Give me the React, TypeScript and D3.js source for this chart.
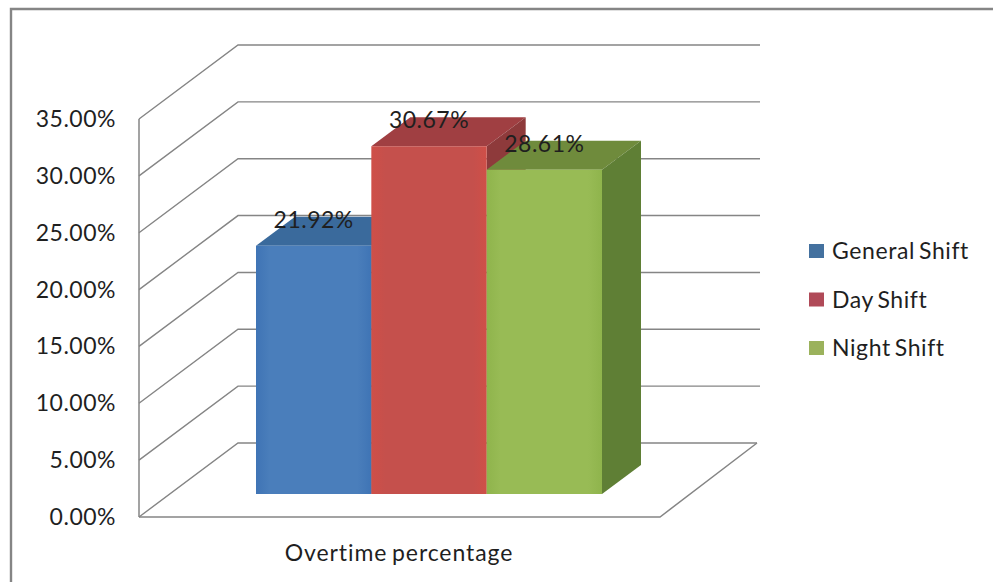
import React from "react";
import * as d3 from "d3";

const seriesNames = ["General Shift", "Day Shift", "Night Shift"];
const seriesValues = [21.92, 30.67, 28.61];
const frontColors = ["#4a7ebb", "#c5504c", "#98bb55"];
const edgeColors = ["#3f74b5", "#cf4f48", "#8fb44c"];
const topColors = ["#3a6a9c", "#a03f42", "#6f8b3c"];
const sideColors = ["#2f5a86", "#8e3a3b", "#5f7f35"];
const legendColors = ["#44719f", "#b04a58", "#9bb25c"];
const axisTicks = [0, 5, 10, 15, 20, 25, 30, 35];
const categoryName = "Overtime percentage";

const FONT = "Lato, 'Open Sans', sans-serif";
const GRID = "#858585";

// Height of a value on the plane through the front corner of the floor.
const y = d3.scaleLinear().domain([0, 35]).range([517, 119]);
const fmt = (v: number) => `${v.toFixed(2)}%`;

// Oblique projection: how far the wall sits behind the front edge.
const wallDx = 99;
const wallDy = -74;
const barDx = 39;
const barDy = -29;
const barBase = 494;

const barX = d3.scaleBand<number>().domain([0, 1, 2]).range([256, 602]);
const poly = (pts: number[][]) => d3.line()(pts as [number, number][]) + "Z";

export default function App() {
  const zero = y(0);
  const w = barX.bandwidth();
  const barTop = (v: number) => barBase - (zero - y(v)) + 1;
  return (
    <svg
      width={993}
      height={582}
      style={{ position: "absolute", left: 0, top: 0, background: "#fff" }}
      fontFamily={FONT}
      fill="#1f1f1f"
    >
      <defs>
        {seriesNames.map((_, i) => (
          <linearGradient key={i} id={`front${i}`} x1="0" x2="1" y1="0" y2="0">
            <stop offset="0" stopColor={edgeColors[i]} />
            <stop offset="0.12" stopColor={frontColors[i]} />
            <stop offset="0.88" stopColor={frontColors[i]} />
            <stop offset="1" stopColor={edgeColors[i]} />
          </linearGradient>
        ))}
      </defs>

      <path d="M11,582V9H993" fill="none" stroke="#858585" strokeWidth={2.4} />

      {/* walls and gridlines */}
      <line x1={139} x2={139} y1={y(35)} y2={zero} stroke={GRID} strokeWidth={1.5} />
      {axisTicks.map((t) => (
        <path
          key={t}
          d={`M139,${y(t)}L${139 + wallDx},${y(t) + wallDy}H${t === 0 ? 757 : 760}`}
          fill="none"
          stroke={GRID}
          strokeWidth={1.4}
        />
      ))}
      <path
        d={`M139,${zero}H660L${660 + wallDx - 2},${zero + wallDy}`}
        fill="none"
        stroke={GRID}
        strokeWidth={1.5}
      />

      {/* top and side faces first, so each front face covers its neighbour's depth */}
      {seriesValues.map((v, i) => {
        const x0 = barX(i)!;
        const top = barTop(v);
        return (
          <g key={i}>
            <path
              d={poly([
                [x0, top],
                [x0 + barDx, top + barDy],
                [x0 + w + barDx, top + barDy],
                [x0 + w, top],
              ])}
              fill={topColors[i]}
            />
            <path
              d={poly([
                [x0 + w, top],
                [x0 + w + barDx, top + barDy],
                [x0 + w + barDx, barBase + barDy],
                [x0 + w, barBase],
              ])}
              fill={sideColors[i]}
            />
          </g>
        );
      })}
      {seriesValues.map((v, i) => {
        const x0 = barX(i)!;
        const top = barTop(v);
        return <rect key={i} x={x0} y={top} width={w} height={barBase - top} fill={`url(#front${i})`} />;
      })}

      {/* value labels */}
      {seriesValues.map((v, i) => (
        <text key={i} x={barX(i)! + w / 2} y={barTop(v) - 18} textAnchor="middle" fontSize={23} letterSpacing={0.5}>
          {fmt(v)}
        </text>
      ))}

      {/* axis labels */}
      {axisTicks.map((t) => (
        <text key={t} x={116} y={y(t) + 8} textAnchor="end" fontSize={23} letterSpacing={0.5}>
          {fmt(t)}
        </text>
      ))}
      <text x={399} y={561} textAnchor="middle" fontSize={23} letterSpacing={0.9} wordSpacing={-2}>
        {categoryName}
      </text>

      {/* legend */}
      {seriesNames.map((name, i) => (
        <g key={name} transform={`translate(809,${244 + i * 48.5})`}>
          <rect width={15} height={14} fill={legendColors[i]} />
          <text x={23} y={15} fontSize={23} letterSpacing={0.6} wordSpacing={-2.5}>
            {name}
          </text>
        </g>
      ))}
    </svg>
  );
}
